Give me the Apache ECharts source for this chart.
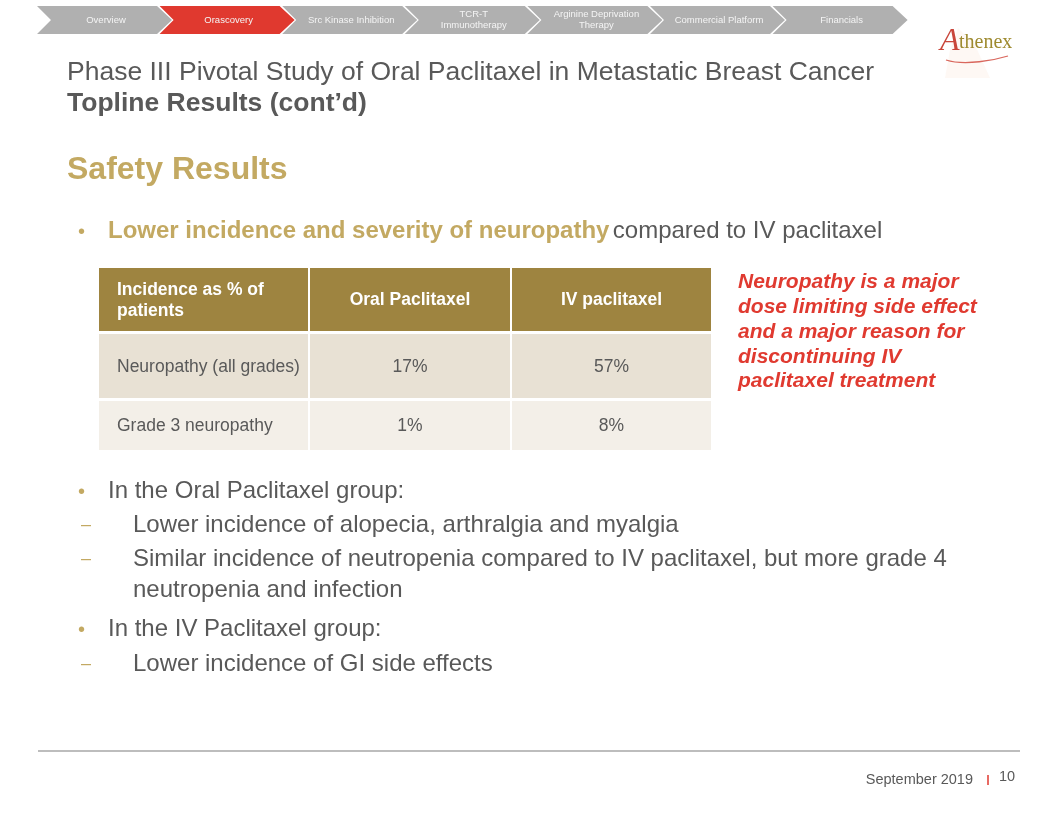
<!DOCTYPE html>
<html>
<head>
<meta charset="utf-8">
<script src="https://cdn.jsdelivr.net/npm/echarts@6/dist/echarts.min.js"></script>
<style>
html,body{margin:0;padding:0;background:#fff;}
#main{width:1056px;height:816px;}
</style>
</head>
<body>
<div id="main"></div>
<script>
// ---- data ----
const navItems = ['Overview', 'Orascovery', 'Src Kinase Inhibition', 'TCR-T\nImmunotherapy', 'Arginine Deprivation\nTherapy', 'Commercial Platform', 'Financials'];
const activeNav = 1;
const tableHeaders = ['Incidence as % of\npatients', 'Oral Paclitaxel', 'IV paclitaxel'];
const rowLabels = ['Neuropathy (all grades)', 'Grade 3 neuropathy'];
const oralValues = [17, 1];
const ivValues = [57, 8];
const calloutLines = ['Neuropathy is a major', 'dose limiting side effect', 'and a major reason for', 'discontinuing IV', 'paclitaxel treatment'];

// ---- layout/style ----
const FONT = '"Liberation Sans", Arial, Helvetica, sans-serif';
const GRAY = '#595959';
const GOLD = '#c3a962';
const HEAD = '#9e8440';
const RED = '#e03a30';
const colW = [211, 202, 199];
const rowH = [66, 67, 49];
const rowBg = [HEAD, '#e8e1d4', '#f3efe8'];

// build cells
const cells = [];
tableHeaders.forEach((h, c) => cells.push([c, 0, h]));
rowLabels.forEach((lab, r) => {
  cells.push([0, r + 1, lab]);
  cells.push([1, r + 1, oralValues[r] + '%']);
  cells.push([2, r + 1, ivValues[r] + '%']);
});

function renderCell(params, api) {
  const c = api.value(0), r = api.value(1);
  const text = cells[params.dataIndex][2];
  const cs = params.coordSys;
  const sw = colW.reduce((a, b) => a + b, 0), sh = rowH.reduce((a, b) => a + b, 0);
  const kx = cs.width / sw, ky = cs.height / sh;
  let x = cs.x, y = cs.y;
  for (let i = 0; i < c; i++) x += colW[i] * kx;
  for (let i = 0; i < r; i++) y += rowH[i] * ky;
  const w = colW[c] * kx - (c < 2 ? 2 : 0);
  const h = rowH[r] * ky - (r < 2 ? 3 : 0);
  const header = r === 0;
  const left = c === 0;
  return {
    type: 'group',
    children: [
      { type: 'rect', shape: { x: x, y: y, width: w, height: h }, style: { fill: rowBg[r] } },
      { type: 'text', style: {
          text: text,
          x: left ? x + 18 : x + w / 2,
          y: y + h / 2 + 1,
          align: left ? 'left' : 'center',
          verticalAlign: 'middle',
          fill: header ? '#ffffff' : GRAY,
          font: (header ? 'bold 17.5px ' : '17.5px ') + FONT,
          lineHeight: 21
      } }
    ]
  };
}

// graphics
const g = [];
navItems.forEach((name, i) => {
  const x0 = 37 + i * 122.6;
  g.push({ type: 'polygon', shape: { points: [[x0, 6], [x0 + 120, 6], [x0 + 135, 20], [x0 + 120, 34], [x0, 34], [x0 + 14, 20]] },
    style: { fill: i === activeNav ? '#e0392f' : '#b0b0b0' } });
  g.push({ type: 'text', x: x0 + 69, y: 20, style: { text: name, align: 'center', verticalAlign: 'middle', fill: '#f4f4f4', font: '9.5px ' + FONT, lineHeight: 11 } });
});
// logo
g.push({ type: 'polygon', shape: { points: [[958, 28], [975, 45], [990, 78], [945, 78], [950, 50]] }, style: { fill: '#fdf4ec', opacity: 0.6 } });
g.push({ type: 'bezierCurve', shape: { x1: 946, y1: 60, x2: 1008, y2: 56, cpx1: 965, cpy1: 66, cpx2: 995, cpy2: 60 }, style: { stroke: '#d9675d', lineWidth: 1.3, fill: null } });
g.push({ type: 'text', x: 940, y: 58, style: { text: 'A', fill: '#c9463b', font: 'italic 32px "Liberation Serif", "DejaVu Serif", serif', verticalAlign: 'bottom' } });
g.push({ type: 'text', x: 959, y: 53, style: { text: 'thenex', fill: '#9e8a2f', font: '20px "Liberation Serif", "DejaVu Serif", serif', verticalAlign: 'bottom' } });
// titles
g.push({ type: 'text', x: 67, y: 73, style: { text: 'Phase III Pivotal Study of Oral Paclitaxel in Metastatic Breast Cancer', fill: GRAY, font: '26.5px ' + FONT, verticalAlign: 'middle' } });
g.push({ type: 'text', x: 67, y: 104, style: { text: 'Topline Results (cont\u2019d)', fill: GRAY, font: 'bold 26.5px ' + FONT, verticalAlign: 'middle' } });
g.push({ type: 'text', x: 67, y: 170, style: { text: 'Safety Results', fill: GOLD, font: 'bold 32px ' + FONT, verticalAlign: 'middle' } });
// bullets
function bullet(y, sub) {
  if (sub) g.push({ type: 'text', x: 81, y: y, style: { text: '\u2013', fill: GOLD, font: '18px ' + FONT, verticalAlign: 'middle' } });
  else g.push({ type: 'text', x: 78, y: y + 1, style: { text: '\u2022', fill: GOLD, font: '20px ' + FONT, verticalAlign: 'middle' } });
}
bullet(231, false);
g.push({ type: 'text', x: 108, y: 231, style: { text: '{b|Lower incidence and severity of neuropathy} {r|compared to IV paclitaxel}', verticalAlign: 'middle',
  rich: { b: { fill: GOLD, font: 'bold 24px ' + FONT }, r: { fill: GRAY, font: '24px ' + FONT } } } });
const body = [
  [491, false, 108, 'In the Oral Paclitaxel group:'],
  [525, true, 133, 'Lower incidence of alopecia, arthralgia and myalgia'],
  [559, true, 133, 'Similar incidence of neutropenia compared to IV paclitaxel, but more grade 4'],
  [590, null, 133, 'neutropenia and infection'],
  [629, false, 108, 'In the IV Paclitaxel group:'],
  [664, true, 133, 'Lower incidence of GI side effects']
];
body.forEach(b => {
  if (b[1] !== null) bullet(b[0], b[1]);
  g.push({ type: 'text', x: b[2], y: b[0], style: { text: b[3], fill: GRAY, font: '24px ' + FONT, verticalAlign: 'middle' } });
});
// callout
g.push({ type: 'text', x: 738, y: 270, style: { text: calloutLines.join('\n'), fill: RED, font: 'italic bold 21px ' + FONT, lineHeight: 24.8, verticalAlign: 'top' } });
// footer
g.push({ type: 'line', shape: { x1: 38, y1: 751, x2: 1020, y2: 751 }, style: { stroke: '#bdbdbd', lineWidth: 2 } });
g.push({ type: 'text', x: 973, y: 780, style: { text: 'September 2019', fill: GRAY, font: '14.5px ' + FONT, align: 'right', verticalAlign: 'middle' } });
g.push({ type: 'line', shape: { x1: 988, y1: 775, x2: 988, y2: 785 }, style: { stroke: '#e0392f', lineWidth: 1.5 } });
g.push({ type: 'text', x: 999, y: 777, style: { text: '10', fill: GRAY, font: '14.5px ' + FONT, verticalAlign: 'middle' } });

const chart = echarts.init(document.getElementById('main'), null, { renderer: 'canvas' });
chart.setOption({
  animation: false,
  backgroundColor: '#ffffff',
  grid: { left: 99, top: 268, width: 612, height: 182, containLabel: false },
  xAxis: { type: 'category', data: [0, 1, 2], show: false },
  yAxis: { type: 'category', data: [0, 1, 2], inverse: true, show: false },
  series: [{ type: 'custom', renderItem: renderCell, data: cells.map(d => [d[0], d[1]]), silent: true }],
  graphic: g
});
</script>
</body>
</html>
